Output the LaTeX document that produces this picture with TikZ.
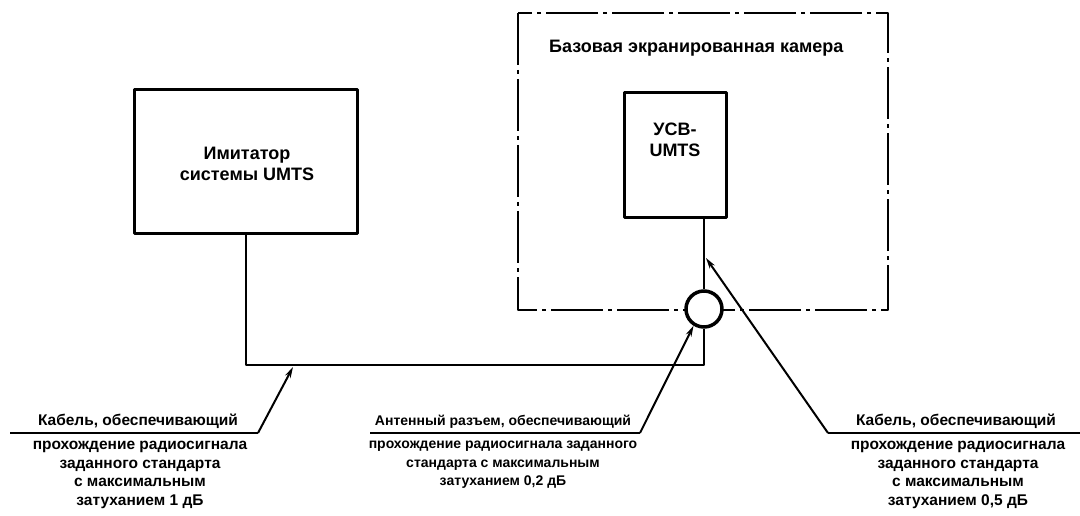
\documentclass[tikz,border=0pt]{standalone}
\usepackage{fontspec}
\setmainfont{Liberation Sans}
\usetikzlibrary{arrows.meta}
\begin{document}
\begin{tikzpicture}[x=1pt,y=-1pt, line join=round, >={Stealth[length=11pt,width=6pt]},
	font=\bfseries\fontsize{15.5}{18.5}\selectfont,
	box/.style={draw, line width=3pt, inner sep=0pt},
	chamber/.style={line width=2.5pt, dash pattern=on 52pt off 5pt on 4pt off 5pt},
	cable/.style={line width=2.8pt},
	leader/.style={line width=2pt, ->},
	txt/.style={align=center, inner sep=1pt},
	bigtxt/.style={txt, font=\bfseries\fontsize{18}{21}\selectfont}]
	\useasboundingbox (0,0) rectangle (1080,516);
	% Экранированная камера
	\draw[chamber] (518,13) rectangle (888,310);
	\node[bigtxt, anchor=west, inner sep=0pt] (title) at (549,48) {Базовая экранированная камера};
	% Блоки
	\node[box, minimum width=223, minimum height=144] (sim) at (246,162) {};
	\node[bigtxt] (simtext) at (247,164) {Имитатор\\системы UMTS};
	\node[box, minimum width=102, minimum height=125] (ue) at (675,155.5) {};
	\node[bigtxt] (uetext) at (675,140) {УСВ-\\UMTS};
	\node[circle, draw, line width=3.5pt, fill=white, minimum size=36, inner sep=0pt] (conn) at (704,309) {};
	% Кабели
	\coordinate (low) at (246,365);
	\draw[cable] (sim.south) -- (low) -| (conn.south);
	\draw[cable] (ue.south -| conn.north) -- (conn.north);
	% Выноски
	\coordinate (la) at (10,433);
	\coordinate (lb) at (258,433);
	\coordinate (ma) at (370,433);
	\coordinate (mb) at (640,433);
	\coordinate (ra) at (828,433);
	\coordinate (rb) at (1080,433);
	\draw[line width=1.6pt] (la) -- (lb) (ma) -- (mb) (ra) -- (rb);
	\draw[leader] (lb) -- (293,367);
	\draw[leader] (mb) -- (conn.238);
	\draw[leader] (ra) -- (706,258);
	\node[txt, anchor=south] (ltop) at (138,430) {Кабель, обеспечивающий};
	\node[txt, anchor=north] (lbot) at (140,440) {прохождение радиосигнала\\заданного стандарта\\с максимальным\\затуханием 1 дБ};
	\node[txt, anchor=south, font=\bfseries\fontsize{14}{18.5}\selectfont] (mtop) at (503,430) {Антенный разъем, обеспечивающий};
	\node[txt, anchor=north, font=\bfseries\fontsize{14}{18.5}\selectfont] (mbot) at (503,440) {прохождение радиосигнала заданного\\стандарта с максимальным\\затуханием 0,2 дБ};
	\node[txt, anchor=south] (rtop) at (956,430) {Кабель, обеспечивающий};
	\node[txt, anchor=north] (rbot) at (958,440) {прохождение радиосигнала\\заданного стандарта\\с максимальным\\затуханием 0,5 дБ};
\end{tikzpicture}
\end{document}
